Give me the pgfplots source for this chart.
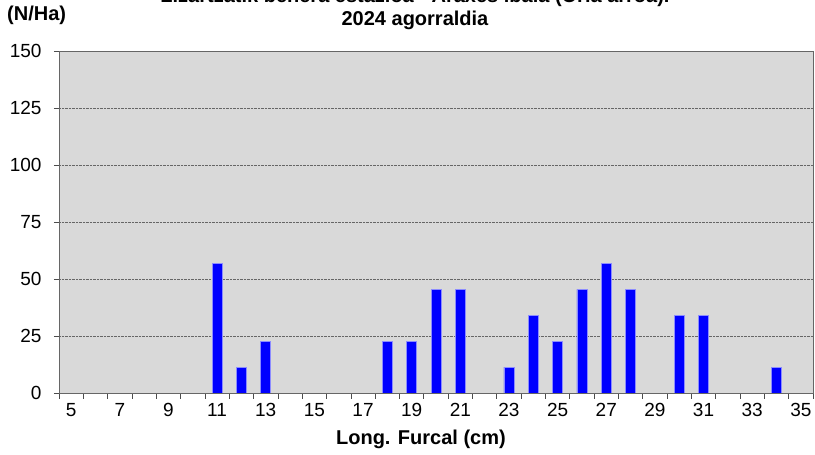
\documentclass[border=0pt]{standalone}
\usepackage{pgfplots}
\pgfplotsset{compat=1.18}
\usepackage{fontspec}
\setmainfont{Liberation Sans}
\definecolor{bgray}{HTML}{D9D9D9}
\begin{document}
\begin{tikzpicture}[x=1pt,y=1pt]
\useasboundingbox (0,0) rectangle (815,455);
\begin{axis}[
  at={(59pt,62pt)}, anchor=south west,
  scale only axis, width=754pt, height=342pt,
  axis background/.style={fill=bgray},
  axis line style={draw=gray!80!black},
  xmin=4.5, xmax=35.5, ymin=0, ymax=150,
  ytick={0,25,...,150},
  xtick={5,7,...,35},
  minor xtick={4.5,5.5,...,35.5},
  major x tick style={draw=none},
  minor x tick style={draw=black!70, line width=0.7pt},
  minor tick length=6pt,
  major tick length=5pt,
  y tick style={draw=black!70, line width=0.7pt},
  tick align=outside, tick pos=left,
  ymajorgrids, grid style={densely dotted, black!60, line width=0.8pt},
  ticklabel style={font=\fontsize{19}{22}\selectfont},
  /pgf/number format/assume math mode=true,
  xticklabel style={anchor=center, yshift=-12pt},
  yticklabel style={xshift=-9pt},
  xlabel={\textbf{Long. Furcal (cm)}},
  xlabel style={font=\fontsize{20}{23}\selectfont, anchor=center, at={(0.48,0)}, yshift=-46pt},
  ybar, bar width=10pt,
]
\addplot[fill=blue, draw=blue!45!white, line width=0.6pt] coordinates {
(11,56.8) (12,11.4) (13,22.7) (18,22.7) (19,22.7) (20,45.5) (21,45.5)
(23,11.4) (24,34.1) (25,22.7) (26,45.5) (27,56.8) (28,45.5)
(30,34.1) (31,34.1) (34,11.4)
};
\end{axis}
\node[font=\fontsize{20}{23}\selectfont\bfseries, anchor=west, inner sep=0pt] at (7,440) {(N/Ha)};
\node[font=\fontsize{20}{23}\selectfont\bfseries, align=center, anchor=center] at (415,446) {Lizartzatik behera estazioa - Araxes ibaia (Oria arroa).\\2024 agorraldia};
\end{tikzpicture}
\end{document}
